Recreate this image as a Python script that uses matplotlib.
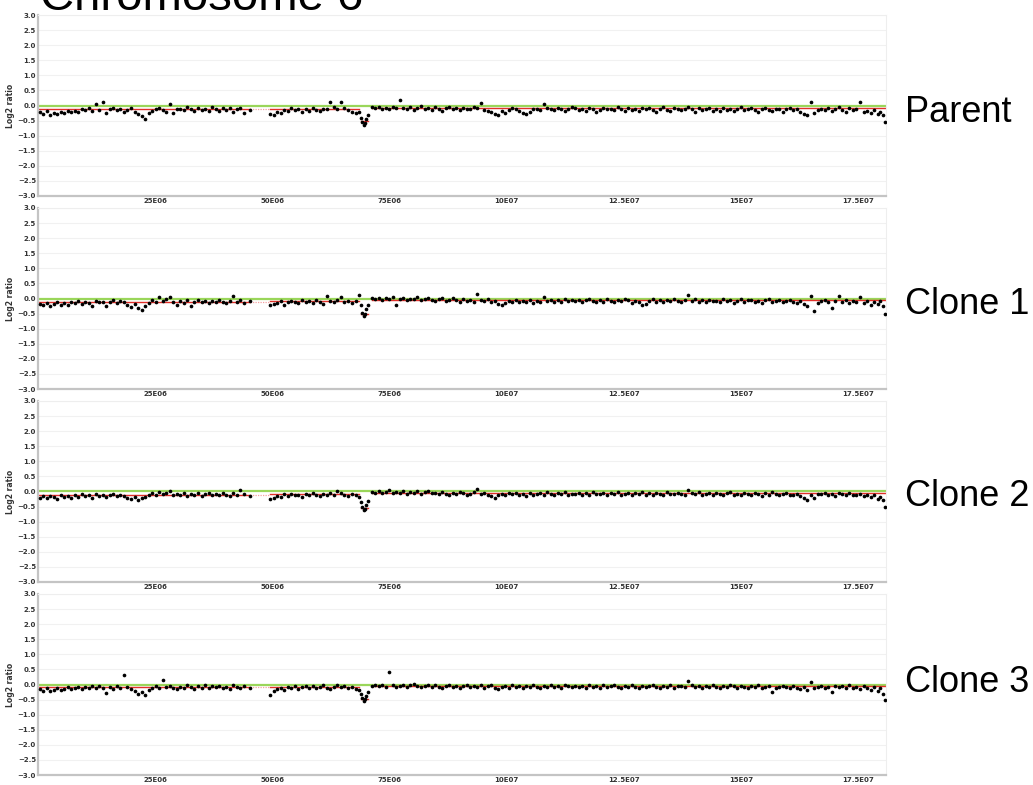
import numpy as np
import matplotlib.pyplot as plt

# probe positions (Mb), shared by the four arrays
pos_mb = [
    0.4, 1.1, 1.9, 2.6, 3.4, 4.1, 4.9, 5.6, 6.4, 7.1,
    7.9, 8.6, 9.4, 10.1, 10.9, 11.6, 12.4, 13.1, 13.9, 14.6,
    15.4, 16.1, 16.9, 17.6, 18.4, 19.1, 19.9, 20.6, 21.4, 22.1,
    22.9, 23.6, 24.4, 25.1, 25.9, 26.6, 27.4, 28.1, 28.9, 29.6,
    30.4, 31.1, 31.9, 32.6, 33.4, 34.1, 34.9, 35.6, 36.4, 37.1,
    37.9, 38.6, 39.4, 40.1, 40.9, 41.6, 42.4, 43.1, 43.9, 45.2,
    49.6, 50.3, 51.1, 51.8, 52.6, 53.3, 54.1, 54.8, 55.6, 56.3,
    57.1, 57.8, 58.6, 59.3, 60.1, 60.8, 61.6, 62.3, 63.1, 63.8,
    64.6, 65.4, 66.2, 67.0, 67.8, 68.5, 68.9, 69.2, 69.5, 69.8,
    70.1, 70.4, 71.2, 72.0, 72.7, 73.5, 74.2, 75.0, 75.7, 76.5,
    77.2, 78.0, 78.7, 79.5, 80.2, 81.0, 81.7, 82.5, 83.2, 84.0,
    84.7, 85.5, 86.2, 87.0, 87.7, 88.5, 89.2, 90.0, 90.7, 91.5,
    92.2, 93.0, 93.7, 94.5, 95.2, 96.0, 96.7, 97.5, 98.2, 99.0,
    99.7, 100.5, 101.2, 102.0, 102.7, 103.5, 104.2, 105.0, 105.7, 106.5,
    107.2, 108.0, 108.7, 109.5, 110.2, 111.0, 111.7, 112.5, 113.2, 114.0,
    114.7, 115.5, 116.2, 117.0, 117.7, 118.5, 119.2, 120.0, 120.7, 121.5,
    122.2, 123.0, 123.7, 124.5, 125.2, 126.0, 126.7, 127.5, 128.2, 129.0,
    129.7, 130.5, 131.2, 132.0, 132.7, 133.5, 134.2, 135.0, 135.7, 136.5,
    137.2, 138.0, 138.7, 139.5, 140.2, 141.0, 141.7, 142.5, 143.2, 144.0,
    144.7, 145.5, 146.2, 147.0, 147.7, 148.5, 149.2, 150.0, 150.7, 151.5,
    152.2, 153.0, 153.7, 154.5, 155.2, 156.0, 156.7, 157.5, 158.2, 159.0,
    159.7, 160.5, 161.2, 162.0, 162.7, 163.5, 164.2, 165.0, 165.7, 166.5,
    167.2, 168.0, 168.7, 169.5, 170.2, 171.0, 171.7, 172.5, 173.2, 174.0,
    174.7, 175.5, 176.2, 177.0, 177.7, 178.5, 179.2, 179.8, 180.3, 180.7,
]

# log2 ratios x 100
parent = [
    -22, -27, -19, -30, -24, -28, -21, -26, -18, -23,
    -17, -21, -12, -15, -9, -19, 5, -14, 10, -25,
    -13, -8, -16, -11, -20, -14, -7, -22, -28, -34,
    -45, -26, -18, -12, -9, -15, -21, 6, -24, -12,
    -10, -16, -6, -13, -19, -8, -14, -11, -17, -5,
    -12, -18, -9, -15, -7, -21, -13, -8, -24, -16,
    -27, -31, -22, -25, -14, -18, -9, -16, -12, -20,
    -11, -17, -8, -14, -19, -10, -12, 10, -6, -13,
    12, -9, -16, -20, -25, -22, -42, -55, -63, -58,
    -45, -33, -6, -8, -4, -10, -7, -12, -5, -9,
    17, -8, -12, -5, -15, -9, -3, -11, -7, -14,
    -6, -10, -18, -8, -4, -13, -9, -16, -7, -11,
    -12, -5, -8, 9, -14, -17, -22, -28, -31, -19,
    -26, -15, -9, -12, -18, -24, -27, -20, -13, -10,
    -14, 5, -8, -11, -16, -7, -13, -19, -10, -6,
    -9, -15, -12, -18, -8, -11, -21, -14, -7, -13,
    -10, -16, -6, -12, -19, -9, -14, -11, -17, -8,
    -13, -7, -15, -20, -11, -5, -14, -18, -9, -12,
    -16, -10, -6, -13, -21, -9, -15, -11, -8, -17,
    -12, -18, -7, -14, -10, -19, -13, -6, -16, -11,
    -9, -15, -22, -12, -8, -14, -17, -10, -13, -20,
    -11, -7, -16, -13, -20, -27, -31, 11, -25, -14,
    -10, -15, -8, -18, -12, -6, -14, -20, -9, -16,
    -13, 10, -22, -17, -25, -14, -28, -20, -30, -55,
]

clone1 = [
    -18, -22, -15, -24, -19, -13, -21, -16, -20, -12,
    -14, -9, -17, -11, -15, -26, -8, -13, -10, -25,
    -12, -6, -15, -9, -13, -22, -27, -18, -30, -37,
    -24, -16, -5, -10, 4, -8, -3, 5, -11, -20,
    -9, -14, -6, -25, -11, -4, -13, -8, -15, -7,
    -10, -5, -12, -16, -8, 8, -11, -6, -14, -9,
    -22, -19, -14, -9, -20, -13, -7, -11, -16, -6,
    -12, -8, -15, -5, -10, -17, 8, -9, -13, -6,
    5, -11, -7, -14, -9, 10, -20, -48, -59, -52,
    -34, -22, 2, -2, 3, -4, 1, -3, 4, -20,
    -2, 3, -5, 0, -3, 4, -6, -1, 2, -4,
    -7, -2, 1, -9, -4, 3, -6, -11, -3, -8,
    -5, -10, 15, -4, -8, -2, -12, -9, -18, -23,
    -14, -7, -10, -5, -13, -8, -11, -6, -15, -9,
    -12, 5, -7, -4, -10, -6, -13, -3, -8, -5,
    -9, -4, -11, -6, -2, -8, -13, -5, -10, -3,
    -7, -12, -4, -9, -1, -6, -14, -8, -10, -20,
    -17, -8, -3, -10, -6, -12, -4, -9, -2, -7,
    -11, -5, 13, -8, -3, -10, -6, -13, -4, -9,
    -7, -12, -3, -9, -5, -14, -8, -2, -10, -6,
    -4, -11, -8, -15, -6, -3, -12, -9, -5, -13,
    -8, -6, -10, -14, -7, -18, -26, 8, -42, -16,
    -9, -5, -12, -30, -7, 8, -11, -4, -14, -8,
    -10, 5, -16, -8, -21, -12, -19, -9, -25, -53,
]

clone2 = [
    -20, -16, -23, -14, -19, -25, -12, -18, -15, -21,
    -13, -17, -9, -14, -11, -20, -7, -15, -10, -19,
    -12, -8, -16, -10, -14, -21, -25, -17, -28, -23,
    -19, -11, -6, -13, -2, -9, -4, 3, -12, -8,
    -10, -6, -15, -8, -12, -4, -14, -9, -5, -11,
    -7, -13, -4, -10, -16, -6, -11, 5, -9, -14,
    -26, -21, -15, -18, -9, -14, -7, -12, -10, -17,
    -8, -13, -5, -11, -16, -7, -10, -4, -12, 2,
    -6, -10, -14, -8, -12, -17, -35, -50, -62, -57,
    -45, -30, -1, -4, 2, -6, -3, 6, -5, -2,
    -4, 1, -7, -2, -5, 3, -8, -3, 0, -6,
    -5, -9, -2, -7, -11, -4, -8, -1, -6, -10,
    -7, -3, 8, -9, -5, -12, -15, -20, -11, -8,
    -13, -6, -9, -4, -11, -7, -14, -5, -10, -8,
    -6, -10, -3, -8, -12, -5, -9, -2, -11, -7,
    -8, -4, -10, -6, -13, -3, -9, -7, -5, -11,
    -5, -9, -2, -11, -7, -4, -12, -6, -8, -3,
    -10, -6, -13, -4, -8, -11, -3, -9, -7, -5,
    -7, -11, 4, -6, -9, -3, -12, -8, -5, -10,
    -4, -8, -12, -6, -2, -10, -7, -13, -5, -9,
    -11, -5, -8, -14, -6, -10, -3, -9, -12, -7,
    -6, -10, -13, -8, -16, -22, -28, -12, -20, -9,
    -8, -4, -11, -7, -14, -5, -9, -13, -6, -10,
    -12, -7, -15, -10, -19, -13, -24, -17, -28, -50,
]

clone3 = [
    -15, -20, -12, -22, -17, -10, -19, -14, -8, -16,
    -11, -7, -15, -9, -13, -6, -10, -4, -12, -27,
    -8, -14, -5, -11, 30, -9, -16, -20, -31, -24,
    -35, -18, -10, -6, -13, 15, -8, -4, -11, -15,
    -7, -12, -3, -9, -14, -5, -10, -2, -13, -6,
    -9, -4, -11, -7, -15, -3, -8, -12, -5, -10,
    -35, -22, -16, -10, -18, -7, -12, -5, -14, -9,
    -6, -11, -4, -13, -8, -3, -10, -15, -7, -2,
    -9, -5, -12, -7, -14, -18, -30, -45, -55, -48,
    -38, -25, -4, -1, -6, -2, -9, 40, -3, -8,
    -5, -1, -7, -3, 2, -6, -9, -4, -2, -8,
    -3, -7, -10, -5, -1, -8, -4, -11, -6, -2,
    -7, -4, -9, -2, -12, -6, -3, -10, -15, -8,
    -5, -11, -3, -8, -6, -13, -4, -9, -2, -7,
    -10, -4, -7, -1, -9, -5, -12, -3, -6, -8,
    -4, -9, -6, -11, -2, -7, -5, -10, -3, -8,
    -6, -3, -9, -12, -5, -8, -2, -7, -10, -4,
    -9, -5, -2, -8, -11, -4, -7, -3, -10, -6,
    -4, -7, 10, -3, -9, -6, -12, -5, -8, -2,
    -7, -11, -4, -9, -3, -6, -10, -5, -8, -13,
    -6, -9, -3, -12, -7, -4, -25, -10, -8, -5,
    -8, -13, -6, -10, -15, -9, -18, 7, -12, -7,
    -5, -10, -7, -25, -4, -9, -6, -12, -3, -11,
    -8, -14, -6, -11, -17, -9, -20, -13, -30, -52,
]

# segmentation (red line): start, end, level
seg_start = [0.0, 49.6, 68.9, 71.2]
seg_end = [45.2, 68.5, 70.4, 180.7]
seg_levels = {
    "Parent": [-0.12, -0.11, -0.52, -0.08],
    "Clone 1": [-0.11, -0.09, -0.50, -0.05],
    "Clone 2": [-0.11, -0.09, -0.55, -0.05],
    "Clone 3": [-0.09, -0.07, -0.48, -0.05],
}

names = ["Parent", "Clone 1", "Clone 2", "Clone 3"]
series = [parent, clone1, clone2, clone3]
label_y = [113, 305, 497, 682]

xticks = [25, 50, 75, 100, 125, 150, 175]
xtick_labels = ["25E06", "50E06", "75E06", "10E07", "12.5E07", "15E07", "17.5E07"]
yticks = [3.0, 2.5, 2.0, 1.5, 1.0, 0.5, 0.0, -0.5, -1.0, -1.5, -2.0, -2.5, -3.0]

W, H = 1033, 785
fig = plt.figure(figsize=(W / 100, H / 100), dpi=100)

x = np.array(pos_mb)
for i, (name, vals) in enumerate(zip(names, series)):
    top = 15 + 193 * i
    ax = fig.add_axes([38 / W, 1 - (top + 181) / H, 848 / W, 181 / H])
    y = np.array(vals) / 100.0

    ax.set_xlim(0, 181)
    ax.set_ylim(-3, 3)
    for yt in yticks:
        ax.axhline(yt, color="#f1f1f1", lw=0.8, zorder=0)

    ax.axhline(0, color="#9ad65a", lw=1.6, zorder=1)
    lv = seg_levels[name]
    for s, e, l in zip(seg_start, seg_end, lv):
        ax.plot([s, e], [l, l], color="#e0302a", lw=1.0, zorder=2)
    ax.plot([seg_end[0], seg_start[1]], [lv[0], lv[0]], color="#f4a0a0",
            lw=0.9, ls=(0, (1, 1)), zorder=2)

    ax.scatter(x, y, s=7, color="black", lw=0, zorder=3)

    ax.set_yticks(yticks)
    ax.set_yticklabels([f"{v:.1f}".replace("-", "\u2212") for v in yticks])
    ax.set_xticks(xticks)
    ax.set_xticklabels(xtick_labels)
    ax.tick_params(length=0, labelsize=5, colors="#333333", pad=1.5)
    for lab in ax.get_xticklabels() + ax.get_yticklabels():
        lab.set_fontweight("bold")

    for side in ["top", "right"]:
        ax.spines[side].set_color("#eeeeee")
        ax.spines[side].set_linewidth(0.8)
    for side in ["left", "bottom"]:
        ax.spines[side].set_color("#c4c4c4")
        ax.spines[side].set_linewidth(1.6)

    ax.set_ylabel("Log2 ratio", fontsize=5.5, fontweight="bold", color="#333333", labelpad=2)

    fig.text(905 / W, 1 - label_y[i] / H, name, fontsize=26,
             family="Liberation Sans", va="center", ha="left")

fig.text(40 / W, 1 - 10 / H, "Chromosome 6", fontsize=34,
         family="Liberation Sans", va="baseline", ha="left")

fig.savefig("out.png", dpi=100)
